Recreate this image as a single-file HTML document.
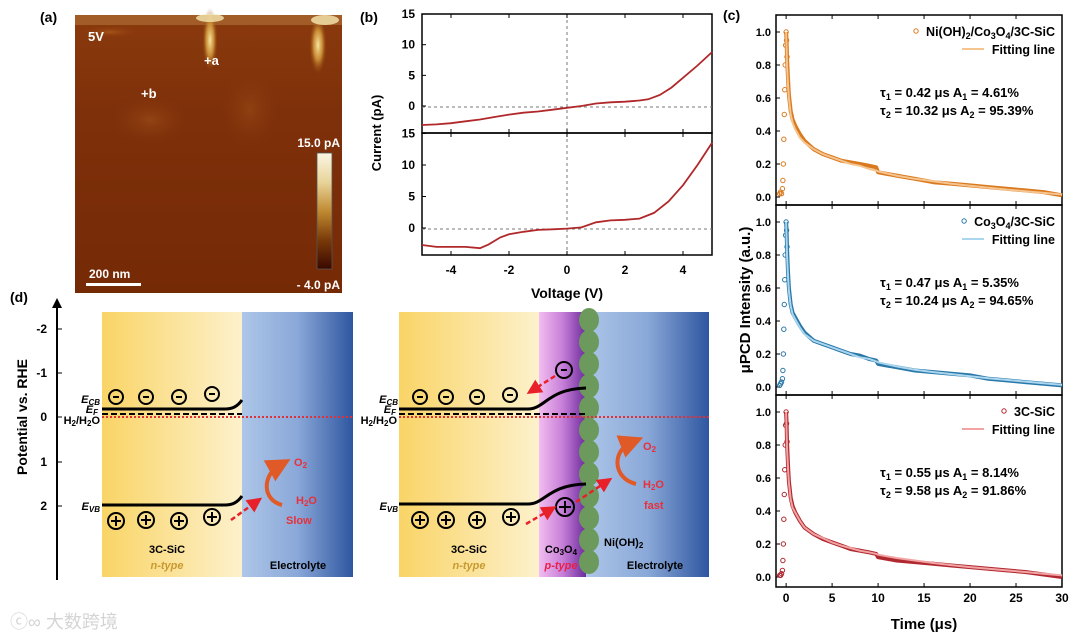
<!DOCTYPE html>
<html><head><meta charset="utf-8"><style>
html,body{margin:0;padding:0;background:#fff;}
svg{display:block;font-family:"Liberation Sans","Noto Sans CJK SC",sans-serif;}
.b{font-weight:bold;}
</style></head><body>
<svg id="fig" width="1080" height="640" viewBox="0 0 1080 640">
<defs>
<linearGradient id="yel" x1="0" x2="1" y1="0" y2="0"><stop offset="0" stop-color="#f9d466"/><stop offset="1" stop-color="#fdf1cc"/></linearGradient>
<linearGradient id="blu" x1="0" x2="1" y1="0" y2="0"><stop offset="0" stop-color="#adc6e8"/><stop offset="0.5" stop-color="#8aa8d8"/><stop offset="1" stop-color="#2e56a0"/></linearGradient>
<linearGradient id="pur" x1="0" x2="1" y1="0" y2="0"><stop offset="0" stop-color="#f2bdf0"/><stop offset="0.5" stop-color="#c77fd8"/><stop offset="1" stop-color="#6c2c9c"/></linearGradient>
<linearGradient id="cbar" x1="0" x2="0" y1="0" y2="1"><stop offset="0" stop-color="#fbf6e4"/><stop offset="0.25" stop-color="#e8d49a"/><stop offset="0.5" stop-color="#c08a32"/><stop offset="0.75" stop-color="#7a3a08"/><stop offset="1" stop-color="#3a0800"/></linearGradient>
<linearGradient id="afm" x1="0" x2="0" y1="0" y2="1"><stop offset="0" stop-color="#8a3a0c"/><stop offset="0.35" stop-color="#7e300a"/><stop offset="1" stop-color="#752a06"/></linearGradient>
<radialGradient id="glowA" cx="0.5" cy="0.5" r="0.5"><stop offset="0" stop-color="#f8e6a0"/><stop offset="0.5" stop-color="#d8a040" stop-opacity="0.8"/><stop offset="1" stop-color="#8a3a0c" stop-opacity="0"/></radialGradient>
<radialGradient id="glowB" cx="0.5" cy="0.5" r="0.5"><stop offset="0" stop-color="#b06020" stop-opacity="0.7"/><stop offset="1" stop-color="#8a3a0c" stop-opacity="0"/></radialGradient>
<marker id="ah" markerWidth="6" markerHeight="6" refX="3" refY="3" orient="auto"><path d="M0,0 L6,3 L0,6 Z" fill="#e8202a"/></marker>
<marker id="ah2" markerWidth="6" markerHeight="6" refX="3" refY="3" orient="auto"><path d="M0,0 L6,3 L0,6 Z" fill="#e05a28"/></marker>
</defs>

<!-- Panel (a) -->
<g>
<text x="40" y="22" class="b" font-size="14">(a)</text>
<rect x="75" y="15" width="267" height="278" fill="url(#afm)"/>
<rect x="75" y="15" width="267" height="10" fill="#b2743a" opacity="0.6"/>
<ellipse cx="110" cy="32" rx="30" ry="6" fill="url(#glowB)"/>
<ellipse cx="150" cy="120" rx="40" ry="25" fill="url(#glowB)" opacity="0.6"/>
<ellipse cx="250" cy="110" rx="30" ry="40" fill="url(#glowB)" opacity="0.5"/>
<ellipse cx="210" cy="40" rx="8" ry="32" fill="url(#glowA)"/>
<ellipse cx="318" cy="45" rx="9" ry="30" fill="url(#glowA)"/>
<ellipse cx="210" cy="18" rx="14" ry="4" fill="#f6e8b0" opacity="0.8"/>
<ellipse cx="325" cy="20" rx="14" ry="5" fill="#f6e8b0" opacity="0.8"/>
<text x="88" y="41" class="b" font-size="13" fill="#fff">5V</text>
<text x="204" y="65" class="b" font-size="13" fill="#fff">+a</text>
<text x="141" y="98" class="b" font-size="13" fill="#fff">+b</text>
<rect x="317" y="153" width="15" height="116" fill="url(#cbar)" stroke="#555" stroke-width="0.8"/>
<text x="340" y="147" class="b" font-size="12" fill="#fff" text-anchor="end">15.0 pA</text>
<text x="340" y="289" class="b" font-size="12" fill="#fff" text-anchor="end">- 4.0 pA</text>
<rect x="86" y="283" width="55" height="3" fill="#fff"/>
<text x="89" y="278" class="b" font-size="12" fill="#fff">200 nm</text>
</g>

<!-- Panel (b) -->
<g id="pb">
<text x="360" y="22" class="b" font-size="14">(b)</text>
<text transform="translate(381,133) rotate(-90)" text-anchor="middle" class="b" font-size="13">Current (pA)</text>
<text x="567" y="298" text-anchor="middle" class="b" font-size="14">Voltage (V)</text>
</g>

<!-- Panel (c) -->
<g id="pc">
<text x="723" y="20" class="b" font-size="14">(c)</text>
<text transform="translate(750,300) rotate(-90)" text-anchor="middle" class="b" font-size="15">μPCD Intensity (a.u.)</text>
<text x="924" y="629" text-anchor="middle" class="b" font-size="15">Time (μs)</text>
</g>

<!-- Panel (d) -->
<g>
<text x="10" y="302" class="b" font-size="14">(d)</text>
<line x1="57" y1="580" x2="57" y2="306" stroke="#000" stroke-width="2"/>
<path d="M52,308 L57,298 L62,308 Z" fill="#000"/>
<g class="b" font-size="12" text-anchor="end">
<line x1="57" y1="329" x2="62" y2="329" stroke="#000"/><text x="47" y="333">-2</text>
<line x1="57" y1="373" x2="62" y2="373" stroke="#000"/><text x="47" y="377">-1</text>
<line x1="57" y1="417" x2="62" y2="417" stroke="#000"/><text x="47" y="421">0</text>
<line x1="57" y1="462" x2="62" y2="462" stroke="#000"/><text x="47" y="466">1</text>
<line x1="57" y1="506" x2="62" y2="506" stroke="#000"/><text x="47" y="510">2</text>
</g>
<text transform="translate(27,417) rotate(-90)" text-anchor="middle" class="b" font-size="14">Potential vs. RHE</text>

<g>
<rect x="102" y="312" width="140" height="265" fill="url(#yel)"/>
<rect x="242" y="312" width="111" height="265" fill="url(#blu)"/>
<line x1="102" y1="417" x2="353" y2="417" stroke="#e0303a" stroke-width="2" stroke-dasharray="2,2"/>
<line x1="102" y1="414" x2="242" y2="414" stroke="#000" stroke-width="2" stroke-dasharray="6,3"/>
<path d="M102,409 L225,409 C232,409 237,407 242,400" stroke="#000" stroke-width="3" fill="none"/>
<path d="M102,505 L225,505 C232,505 237,503 242,496" stroke="#000" stroke-width="3" fill="none"/>
<g class="b" font-size="11" text-anchor="end" font-style="italic">
<text x="100" y="403">E<tspan font-size="8" dy="2">CB</tspan></text>
<text x="98" y="413">E<tspan font-size="8" dy="2">F</tspan></text>
<text x="100" y="510">E<tspan font-size="8" dy="2">VB</tspan></text>
</g>
<text x="100" y="424" class="b" font-size="11" text-anchor="end">H<tspan font-size="8" dy="2">2</tspan><tspan dy="-2">/H</tspan><tspan font-size="8" dy="2">2</tspan><tspan dy="-2">O</tspan></text>
<g stroke="#000" stroke-width="2" fill="none">
<circle cx="116" cy="397" r="7"/><line x1="113" y1="397" x2="119" y2="397"/>
<circle cx="146" cy="397" r="7"/><line x1="143" y1="397" x2="149" y2="397"/>
<circle cx="179" cy="397" r="7"/><line x1="176" y1="397" x2="182" y2="397"/>
<circle cx="212" cy="394" r="7"/><line x1="209" y1="394" x2="215" y2="394"/>
<circle cx="116" cy="521" r="8"/><line x1="111" y1="521" x2="121" y2="521"/><line x1="116" y1="516" x2="116" y2="526"/>
<circle cx="146" cy="520" r="8"/><line x1="141" y1="520" x2="151" y2="520"/><line x1="146" y1="515" x2="146" y2="525"/>
<circle cx="179" cy="521" r="8"/><line x1="174" y1="521" x2="184" y2="521"/><line x1="179" y1="516" x2="179" y2="526"/>
<circle cx="212" cy="517" r="8"/><line x1="207" y1="517" x2="217" y2="517"/><line x1="212" y1="512" x2="212" y2="522"/>
</g>
<line x1="231" y1="520" x2="256" y2="502" stroke="#e8202a" stroke-width="2.5" stroke-dasharray="5,3" marker-end="url(#ah)"/>
<path d="M282,505 C262,500 262,475 280,465" stroke="#e05a28" stroke-width="4" fill="none" marker-end="url(#ah2)"/>
<g class="b" font-size="11" fill="#e8303a">
<text x="294" y="466">O<tspan font-size="8" dy="2">2</tspan></text>
<text x="296" y="504">H<tspan font-size="8" dy="2">2</tspan><tspan dy="-2">O</tspan></text>
<text x="286" y="524">Slow</text>
</g>
<text x="167" y="553" class="b" font-size="11" text-anchor="middle">3C-SiC</text>
<text x="167" y="569" class="b" font-size="11" font-style="italic" fill="#c89a30" text-anchor="middle">n-type</text>
<text x="298" y="569" class="b" font-size="11" text-anchor="middle">Electrolyte</text>
</g>

<g>
<rect x="399" y="312" width="140" height="265" fill="url(#yel)"/>
<rect x="539" y="312" width="47" height="265" fill="url(#pur)"/>
<rect x="586" y="312" width="123" height="265" fill="url(#blu)"/>
<g fill="#6c9a5c" id="bumps"></g>
<line x1="399" y1="417" x2="709" y2="417" stroke="#e0303a" stroke-width="2" stroke-dasharray="2,2"/>
<line x1="399" y1="414" x2="586" y2="414" stroke="#000" stroke-width="2" stroke-dasharray="6,3"/>
<path d="M399,409 L528,409 C545,409 548,389 586,388" stroke="#000" stroke-width="3" fill="none"/>
<path d="M399,504 L528,504 C545,504 548,485 586,484" stroke="#000" stroke-width="3" fill="none"/>
<g class="b" font-size="11" text-anchor="end" font-style="italic">
<text x="398" y="403">E<tspan font-size="8" dy="2">CB</tspan></text>
<text x="396" y="413">E<tspan font-size="8" dy="2">F</tspan></text>
<text x="398" y="510">E<tspan font-size="8" dy="2">VB</tspan></text>
</g>
<text x="397" y="424" class="b" font-size="11" text-anchor="end">H<tspan font-size="8" dy="2">2</tspan><tspan dy="-2">/H</tspan><tspan font-size="8" dy="2">2</tspan><tspan dy="-2">O</tspan></text>
<g stroke="#000" stroke-width="2" fill="none">
<circle cx="420" cy="397" r="7"/><line x1="417" y1="397" x2="423" y2="397"/>
<circle cx="446" cy="397" r="7"/><line x1="443" y1="397" x2="449" y2="397"/>
<circle cx="477" cy="397" r="7"/><line x1="474" y1="397" x2="480" y2="397"/>
<circle cx="510" cy="395" r="7"/><line x1="507" y1="395" x2="513" y2="395"/>
<circle cx="564" cy="370" r="8"/><line x1="561" y1="370" x2="567" y2="370"/>
<circle cx="420" cy="520" r="8"/><line x1="415" y1="520" x2="425" y2="520"/><line x1="420" y1="515" x2="420" y2="525"/>
<circle cx="446" cy="520" r="8"/><line x1="441" y1="520" x2="451" y2="520"/><line x1="446" y1="515" x2="446" y2="525"/>
<circle cx="477" cy="520" r="8"/><line x1="472" y1="520" x2="482" y2="520"/><line x1="477" y1="515" x2="477" y2="525"/>
<circle cx="511" cy="517" r="8"/><line x1="506" y1="517" x2="516" y2="517"/><line x1="511" y1="512" x2="511" y2="522"/>
<circle cx="565" cy="507" r="9"/><line x1="559" y1="507" x2="571" y2="507"/><line x1="565" y1="501" x2="565" y2="513"/>
</g>
<line x1="555" y1="376" x2="533" y2="390" stroke="#e8202a" stroke-width="2.5" stroke-dasharray="5,3" marker-end="url(#ah)"/>
<line x1="526" y1="524" x2="550" y2="510" stroke="#e8202a" stroke-width="2.5" stroke-dasharray="5,3" marker-end="url(#ah)"/>
<line x1="576" y1="502" x2="606" y2="482" stroke="#e8202a" stroke-width="2.5" stroke-dasharray="5,3" marker-end="url(#ah)"/>
<path d="M636,484 C612,478 612,450 632,442" stroke="#e05a28" stroke-width="4" fill="none" marker-end="url(#ah2)"/>
<g class="b" font-size="11" fill="#e8303a">
<text x="643" y="450">O<tspan font-size="8" dy="2">2</tspan></text>
<text x="643" y="488">H<tspan font-size="8" dy="2">2</tspan><tspan dy="-2">O</tspan></text>
<text x="644" y="509">fast</text>
</g>
<text x="604" y="546" class="b" font-size="11">Ni(OH)<tspan font-size="8" dy="2">2</tspan></text>
<text x="469" y="553" class="b" font-size="11" text-anchor="middle">3C-SiC</text>
<text x="469" y="569" class="b" font-size="11" font-style="italic" fill="#c89a30" text-anchor="middle">n-type</text>
<text x="561" y="553" class="b" font-size="11" text-anchor="middle">Co<tspan font-size="8" dy="2">3</tspan><tspan dy="-2">O</tspan><tspan font-size="8" dy="2">4</tspan></text>
<text x="561" y="569" class="b" font-size="11" font-style="italic" fill="#e8204a" text-anchor="middle">p-type</text>
<text x="655" y="569" class="b" font-size="11" text-anchor="middle">Electrolyte</text>
</g>
</g>

<text x="10" y="628" font-size="18" fill="#d4d4d4">ⓒ∞ 大数跨境</text>
</svg>
<script>
// ---- Panel (b) data ----
var ivTopV = [-5,-4.5,-4,-3.5,-3,-2.5,-2,-1.5,-1,-0.5,0,0.5,1,1.5,2,2.5,2.8,3.2,3.6,4,4.5,5];
var ivTopI = [-3.1,-3.0,-2.8,-2.5,-2.2,-1.8,-1.4,-1.1,-0.9,-0.6,-0.3,0.0,0.4,0.6,0.7,0.9,1.1,1.8,3.0,4.6,6.6,8.8];
var ivBotV = [-5,-4.5,-4,-3.5,-3,-2.7,-2.3,-2,-1.5,-1,-0.5,0,0.5,1,1.5,2,2.5,3,3.5,4,4.5,5];
var ivBotI = [-2.7,-3.0,-3.0,-3.0,-3.2,-2.6,-1.5,-1.0,-0.6,-0.3,-0.2,-0.1,0.1,0.9,1.2,1.3,1.5,2.4,4.2,6.8,10.0,13.5];
var ivXTicks = [-4,-2,0,2,4];
var ivYTicks = [0,5,10,15];
// ---- Panel (c) data ----
var decayT = [-0.7,-0.6,-0.5,-0.4,-0.35,-0.3,-0.25,-0.2,-0.15,-0.1,-0.05,0,0.05,0.1,0.2,0.3,0.5,0.7,1,1.5,2,3,4,5,6,7,8,9,9.8,10,12,14,16,18,20,22,24,26,28,30];
var decayNi = [0.02,0.03,0.02,0.05,0.1,0.2,0.35,0.5,0.65,0.8,0.92,1.0,0.95,0.85,0.72,0.62,0.52,0.47,0.43,0.38,0.34,0.29,0.26,0.24,0.22,0.21,0.2,0.19,0.18,0.15,0.13,0.11,0.09,0.08,0.07,0.06,0.05,0.04,0.03,0.01];
var fitNi = [0,0,0,0,0,0,0,0,0,0,0,1.0,0.9,0.8,0.68,0.6,0.5,0.45,0.41,0.36,0.33,0.29,0.26,0.24,0.22,0.2,0.19,0.17,0.16,0.155,0.13,0.11,0.095,0.08,0.068,0.056,0.045,0.035,0.025,0.015];
var decayCo = [0.01,0.02,0.03,0.05,0.1,0.2,0.35,0.5,0.65,0.8,0.92,1.0,0.95,0.85,0.7,0.6,0.5,0.45,0.42,0.37,0.33,0.28,0.26,0.24,0.22,0.2,0.19,0.17,0.16,0.14,0.12,0.1,0.09,0.08,0.07,0.05,0.04,0.03,0.02,0.01];
var fitCo = [0,0,0,0,0,0,0,0,0,0,0,1.0,0.9,0.8,0.67,0.58,0.49,0.44,0.41,0.36,0.32,0.28,0.26,0.24,0.22,0.2,0.18,0.17,0.155,0.15,0.125,0.105,0.09,0.078,0.065,0.053,0.043,0.033,0.023,0.013];
var decaySi = [0.01,0.01,0.02,0.04,0.1,0.2,0.35,0.5,0.65,0.8,0.92,1.0,0.93,0.82,0.68,0.58,0.48,0.43,0.39,0.34,0.3,0.26,0.23,0.21,0.19,0.17,0.16,0.15,0.14,0.12,0.1,0.09,0.08,0.07,0.06,0.05,0.04,0.03,0.015,0.0];
var fitSi = [0,0,0,0,0,0,0,0,0,0,0,1.0,0.88,0.78,0.66,0.57,0.47,0.42,0.39,0.34,0.3,0.26,0.235,0.21,0.19,0.175,0.16,0.15,0.14,0.135,0.115,0.1,0.085,0.072,0.06,0.05,0.04,0.03,0.02,0.01];
var cXTicks = [0,5,10,15,20,25,30];
var cYTicks = [0,0.2,0.4,0.6,0.8,1.0];

var NS = "http://www.w3.org/2000/svg";
function mk(tag, attrs, parent){var e=document.createElementNS(NS,tag);for(var k in attrs)e.setAttribute(k,attrs[k]);parent.appendChild(e);return e;}

(function(){var g=document.getElementById('bumps');for(var y=320;y<577;y+=22){mk('ellipse',{cx:589,cy:y,rx:10,ry:12},g);}})();

// ---- Panel b ----
(function(){
  var pb=document.getElementById('pb');
  var x0=422,x1=712;
  function xs(v){return x0+(v+5)/10*(x1-x0);}
  var panels=[{top:14,bot:133,zeroY:106,ppu:6.13,V:ivTopV,I:ivTopI,name:'iv-curve-point-a'},
              {top:133,bot:255,zeroY:228,ppu:6.3,V:ivBotV,I:ivBotI,name:'iv-curve-point-b'}];
  panels.forEach(function(p){
    function ys(i){return p.zeroY-i*p.ppu;}
    var fr=mk('rect',{x:x0,y:p.top,width:x1-x0,height:p.bot-p.top,fill:'none',stroke:'#000','stroke-width':1.5},pb);
    
    
    mk('line',{x1:x0,x2:x1,y1:ys(0)+1,y2:ys(0)+1,stroke:'#777','stroke-dasharray':'3,3'},pb);
    mk('line',{x1:xs(0),x2:xs(0),y1:p.top,y2:p.bot,stroke:'#777','stroke-dasharray':'3,3'},pb);
    ivYTicks.forEach(function(t){
      mk('line',{x1:x0,x2:x0+4,y1:ys(t),y2:ys(t),stroke:'#000'},pb);
      var tx=mk('text',{x:x0-7,y:ys(t)+4,'text-anchor':'end','font-size':12,'font-weight':'bold'},pb);tx.textContent=t;
      
      
    });
    ivXTicks.forEach(function(t){
      mk('line',{x1:xs(t),x2:xs(t),y1:p.bot,y2:p.bot-4,stroke:'#000'},pb);
      mk('line',{x1:xs(t),x2:xs(t),y1:p.top,y2:p.top+4,stroke:'#000'},pb);
    });
    var d='';p.V.forEach(function(v,i){d+=(i?'L':'M')+xs(v).toFixed(1)+','+ys(p.I[i]).toFixed(1);});
    var path=mk('path',{d:d,fill:'none',stroke:'#b0282a','stroke-width':1.8},pb);
    
    
  });
  ivXTicks.forEach(function(t){
    var tx=mk('text',{x:xs(t),y:274,'text-anchor':'middle','font-size':12,'font-weight':'bold'},pb);tx.textContent=t;
    
    
  });
})();

// ---- Panel c ----
(function(){
  var pc=document.getElementById('pc');
  var x0=776,x1=1062,t0=-1.1,t1=30;
  function xs(t){return x0+(t-t0)/(t1-t0)*(x1-x0);}
  var series=[
    {top:15,bot:205,data:decayNi,fit:fitNi,col:'#d97a20',fcol:'#f6c48e',leg:'Ni(OH)<tspan font-size="9" dy="3">2</tspan><tspan dy="-3">/Co</tspan><tspan font-size="9" dy="3">3</tspan><tspan dy="-3">O</tspan><tspan font-size="9" dy="3">4</tspan><tspan dy="-3">/3C-SiC</tspan>',t1:'τ<tspan font-size="9" dy="3">1</tspan><tspan dy="-3"> = 0.42 μs A</tspan><tspan font-size="9" dy="3">1</tspan><tspan dy="-3"> =  4.61%</tspan>',t2:'τ<tspan font-size="9" dy="3">2</tspan><tspan dy="-3"> = 10.32 μs A</tspan><tspan font-size="9" dy="3">2</tspan><tspan dy="-3"> =  95.39%</tspan>',name:'ni-co-sic'},
    {top:205,bot:395,data:decayCo,fit:fitCo,col:'#2a78a8',fcol:'#aad6f0',leg:'Co<tspan font-size="9" dy="3">3</tspan><tspan dy="-3">O</tspan><tspan font-size="9" dy="3">4</tspan><tspan dy="-3">/3C-SiC</tspan>',t1:'τ<tspan font-size="9" dy="3">1</tspan><tspan dy="-3"> = 0.47 μs A</tspan><tspan font-size="9" dy="3">1</tspan><tspan dy="-3"> =  5.35%</tspan>',t2:'τ<tspan font-size="9" dy="3">2</tspan><tspan dy="-3"> = 10.24 μs A</tspan><tspan font-size="9" dy="3">2</tspan><tspan dy="-3"> =  94.65%</tspan>',name:'co-sic'},
    {top:395,bot:587,data:decaySi,fit:fitSi,col:'#b02830',fcol:'#f2a4a4',leg:'3C-SiC',t1:'τ<tspan font-size="9" dy="3">1</tspan><tspan dy="-3"> = 0.55 μs A</tspan><tspan font-size="9" dy="3">1</tspan><tspan dy="-3"> =  8.14%</tspan>',t2:'τ<tspan font-size="9" dy="3">2</tspan><tspan dy="-3"> = 9.58 μs A</tspan><tspan font-size="9" dy="3">2</tspan><tspan dy="-3"> =  91.86%</tspan>',name:'sic'}
  ];
  series.forEach(function(s){
    var z=s.top+182,u=165;
    function ys(v){return z-v*u;}
    var fr=mk('rect',{x:x0,y:s.top,width:x1-x0,height:s.bot-s.top,fill:'none',stroke:'#000','stroke-width':1.5},pc);
    
    
    cYTicks.forEach(function(t){
      mk('line',{x1:x0,x2:x0+4,y1:ys(t),y2:ys(t),stroke:'#000'},pc);
      var tx=mk('text',{x:x0-5,y:ys(t)+4,'text-anchor':'end','font-size':11,'font-weight':'bold'},pc);tx.textContent=t.toFixed(1);
      
      
    });
    cXTicks.forEach(function(t){
      mk('line',{x1:xs(t),x2:xs(t),y1:s.bot,y2:s.bot-4,stroke:'#000'},pc);
      mk('line',{x1:xs(t),x2:xs(t),y1:s.top,y2:s.top+4,stroke:'#000'},pc);
    });
    var d='';var started=false;
    decayT.forEach(function(t,i){
      if(t<=0.1){var c=mk('circle',{cx:xs(t),cy:ys(s.data[i]),r:2.2,fill:'none',stroke:s.col,'stroke-width':1},pc);
        
        }
      if(t>=0){d+=(started?'L':'M')+xs(t).toFixed(1)+','+ys(s.data[i]).toFixed(1);started=true;}
    });
    var p=mk('path',{d:d,fill:'none',stroke:s.col,'stroke-width':4,'stroke-linejoin':'round'},pc);
    
    
    var fd='';started=false;
    decayT.forEach(function(t,i){if(t>=0){fd+=(started?'L':'M')+xs(t).toFixed(1)+','+ys(s.fit[i]).toFixed(1);started=true;}});
    var f=mk('path',{d:fd,fill:'none',stroke:s.fcol,'stroke-width':2},pc);
    
    
    // legend
    var lt=mk('text',{x:x1-7,y:s.top+21,'text-anchor':'end','font-size':12.5,'font-weight':'bold'},pc);lt.innerHTML=s.leg;
    
    
    var w=lt.getComputedTextLength?lt.getComputedTextLength():100;
    var lc=mk('circle',{cx:x1-7-w-10,cy:s.top+16,r:2.2,fill:'none',stroke:s.col},pc);
    
    
    mk('line',{x1:x1-100,x2:x1-78,y1:s.top+34,y2:s.top+34,stroke:s.fcol,'stroke-width':2},pc);
    var ft=mk('text',{x:x1-7,y:s.top+39,'text-anchor':'end','font-size':12.5,'font-weight':'bold'},pc);ft.textContent='Fitting line';
    
    
    var a1=mk('text',{x:880,y:s.top+82,'font-size':13,'font-weight':'bold'},pc);a1.innerHTML=s.t1;
    
    
    var a2=mk('text',{x:880,y:s.top+100,'font-size':13,'font-weight':'bold'},pc);a2.innerHTML=s.t2;
    
    
  });
  cXTicks.forEach(function(t){
    var tx=mk('text',{x:xs(t),y:602,'text-anchor':'middle','font-size':12,'font-weight':'bold'},pc);tx.textContent=t;
    
    
  });
})();
</script>
</body></html>
